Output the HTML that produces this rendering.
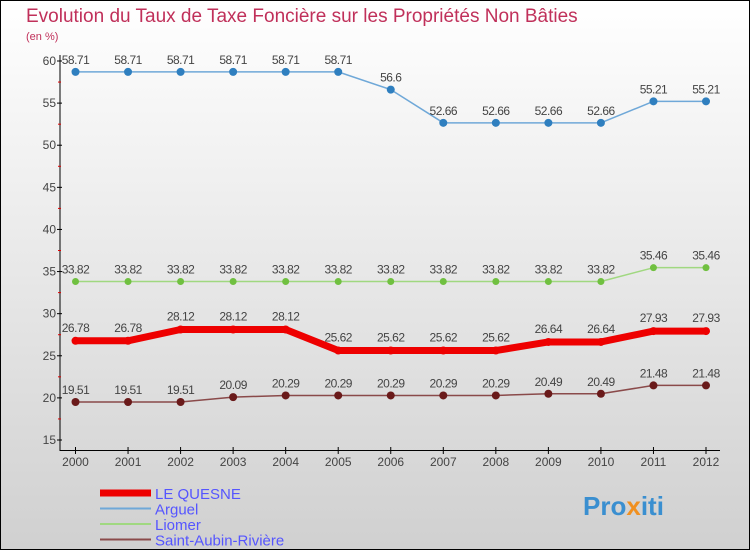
<!DOCTYPE html>
<html><head><meta charset="utf-8"><style>
body{margin:0;width:750px;height:550px;overflow:hidden}
svg{display:block;font-family:"Liberation Sans",sans-serif}
</style></head><body>
<svg id="c" width="750" height="550">
<defs><linearGradient id="bg" x1="0" y1="0" x2="0" y2="1"><stop offset="0" stop-color="#ffffff"/><stop offset="1" stop-color="#d0d0d0"/></linearGradient></defs>
<rect x="0.5" y="0.5" width="749" height="549" fill="url(#bg)" stroke="#000"/>
<text x="26" y="22" font-size="19" fill="#c0305a">Evolution du Taux de Taxe Foncière sur les Propriétés Non Bâties</text>
<text x="26" y="40" font-size="11" fill="#c0305a">(en %)</text>
<g id="axes"></g><g id="series"></g><g id="legend"></g>
<text x="583" y="515" font-size="26" font-weight="bold" fill="#3a8fd0">Pro<tspan fill="#f09020">x</tspan>iti</text>
</svg>
<script>
const years=["2000","2001","2002","2003","2004","2005","2006","2007","2008","2009","2010","2011","2012"];
const yTicks=[15,20,25,30,35,40,45,50,55,60];
const leQuesne=[26.78,26.78,28.12,28.12,28.12,25.62,25.62,25.62,25.62,26.64,26.64,27.93,27.93];
const arguel=[58.71,58.71,58.71,58.71,58.71,58.71,56.6,52.66,52.66,52.66,52.66,55.21,55.21];
const liomer=[33.82,33.82,33.82,33.82,33.82,33.82,33.82,33.82,33.82,33.82,33.82,35.46,35.46];
const saint=[19.51,19.51,19.51,20.09,20.29,20.29,20.29,20.29,20.29,20.49,20.49,21.48,21.48];
const NS="http://www.w3.org/2000/svg";
const X=i=>75.5+i*(706-75.5)/(years.length-1);
const Y=v=>61+(60-v)*(440-61)/45;
function mk(t,a,p){const e=document.createElementNS(NS,t);for(const k in a)e.setAttribute(k,a[k]);p.appendChild(e);return e;}
const ax=document.getElementById('axes');
let l=mk('line',{x1:60,y1:55,x2:60,y2:451,stroke:'#000'},ax);


l=mk('line',{x1:60,y1:450.5,x2:720,y2:450.5,stroke:'#000'},ax);


yTicks.forEach(v=>{
  mk('line',{x1:57,y1:Y(v),x2:62,y2:Y(v),stroke:'#000'},ax);
  if(v<60) mk('line',{x1:58,y1:Y(v+2.5),x2:61,y2:Y(v+2.5),stroke:'#d00'},ax);
  const t=mk('text',{x:56,y:Y(v)+4,'font-size':12,'text-anchor':'end',fill:'#444'},ax);t.textContent=v;
  
  
});
years.forEach((y,i)=>{
  mk('line',{x1:X(i),y1:447,x2:X(i),y2:454,stroke:'#000'},ax);
  const t=mk('text',{x:X(i),y:466,'font-size':12,'text-anchor':'middle',fill:'#444'},ax);t.textContent=y;
  
  
});
const sg=document.getElementById('series');
function draw(d,color,w,r,dot,name,thick){
  const g=mk('g',{},sg);
  
  
  mk('polyline',{points:d.map((v,i)=>X(i)+','+Y(v)).join(' '),fill:'none',stroke:color,'stroke-width':w,'stroke-linejoin':'round'},g);
  d.forEach((v,i)=>{
    const c=mk('circle',{cx:X(i),cy:Y(v),r:r,fill:dot},g);
    
    
    const t=mk('text',{x:X(i),y:Y(v)-(thick?9:8),'font-size':12,'text-anchor':'middle',fill:'#444','letter-spacing':'-0.5'},g);
    t.textContent=v;
    
    
  });
}
draw(arguel,'#6fa8d8',1.5,4,'#2f7fbf','arguel-series');
draw(liomer,'#a0d880',1.5,3.5,'#70c040','liomer-series');
draw(saint,'#8a4a4a',1.5,4,'#6a1a1a','saint-aubin-series');
draw(leQuesne,'#ee0000',7,4,'#ee0000','le-quesne-series',true);
const lg=document.getElementById('legend');
const items=[["LE QUESNE","#ee0000",7],["Arguel","#6fa8d8",2],["Liomer","#a0d880",2],["Saint-Aubin-Rivière","#8a4a4a",2]];
items.forEach((it,i)=>{
  const yy=493+i*15.5;
  const g=mk('g',{},lg);
  
  
  mk('line',{x1:100,y1:yy,x2:151,y2:yy,stroke:it[1],'stroke-width':it[2]},g);
  const t=mk('text',{x:155,y:yy+6,'font-size':15,fill:'#5555ff'},g);t.textContent=it[0];
});
</script>
</body></html>
